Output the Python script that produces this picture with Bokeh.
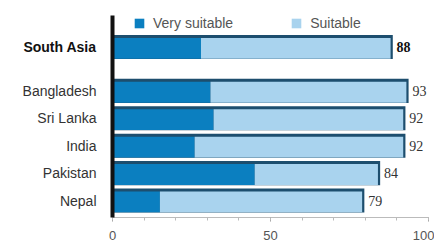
from bokeh.plotting import figure
from bokeh.layouts import row
from bokeh.models import (ColumnDataSource, LabelSet, Legend, LegendItem,
                          FixedTicker, Range1d)
from bokeh.core.properties import value
from bokeh.embed import file_html
from bokeh.resources import INLINE

# ---- data ----
categories = ["South Asia", "Bangladesh", "Sri Lanka", "India", "Pakistan", "Nepal"]
very_suitable = [28, 31, 32, 26, 45, 15]
total_suitable = [88, 93, 92, 92, 84, 79]
x_ticks = [0, 50, 100]
x_minor_ticks = [0, 10, 20, 30, 40, 50, 60, 70, 80, 90, 100]
series_names = ["Very suitable", "Suitable"]

DARK = "#0b7fc0"
LIGHT = "#a9d3ee"
EDGE = "#1d4e6e"
FONT = "Liberation Sans"

n = len(categories)
pos = [(n - 1 + 0.6) if i == 0 else (n - 1 - i) for i in range(n)]

src = ColumnDataSource(dict(
    cat=categories,
    y=pos,
    y_in=[p_ - 0.05 for p_ in pos],
    very=very_suitable,
    total=total_suitable,
    total_edge=[t + 0.7 for t in total_suitable],
    zero=[0] * n,
    one=[1] * n,
    val=[str(t) for t in total_suitable],
    style=["bold" if i == 0 else "normal" for i in range(n)],
    tcolor=["#111111" if i == 0 else "#333333" for i in range(n)],
))

H = 244
TOP = 15
BOTTOM = 27
yr = Range1d(-0.62, 6.75)

# ---- left label panel ----
lab = figure(width=108, height=H, output_backend="svg", toolbar_location=None,
             x_range=Range1d(0, 1), y_range=yr, x_axis_type=None, y_axis_type=None,
             min_border_left=0, min_border_right=0, min_border_top=TOP,
             min_border_bottom=BOTTOM)
lab.outline_line_color = None
lab.xgrid.visible = False
lab.ygrid.visible = False
lab.text(x="one", y="y", text="cat", source=src, x_offset=-12,
         text_align="right", text_baseline="middle",
         text_font=value(FONT),
         text_font_size="14px", text_font_style="style", text_color="tcolor")

# ---- main chart ----
p = figure(width=434 - 108, height=H, output_backend="svg", toolbar_location=None,
           x_range=Range1d(0, 100), y_range=yr,
           min_border_left=4, min_border_right=6, min_border_top=TOP,
           min_border_bottom=BOTTOM)
p.outline_line_color = None
p.xgrid.visible = False
p.ygrid.visible = False

# dark edge (top and right end)
p.hbar(y="y", left="zero", right="total_edge", height=0.88, source=src,
       fill_color=EDGE, line_color=None)
r_very = p.hbar(y="y_in", left="zero", right="very", height=0.76, source=src,
                fill_color=DARK, line_color=None)
r_suit = p.hbar(y="y_in", left="very", right="total", height=0.76, source=src,
                fill_color=LIGHT, line_color=None)

# value labels
val_labels = LabelSet(x="total", y="y", text="val", source=src, x_offset=6,
                      text_align="left", text_baseline="middle",
                      text_font=FONT, text_font_size="14px",
                      text_font_style="style", text_color="tcolor")
p.add_layout(val_labels)

# axes
p.yaxis.ticker = FixedTicker(ticks=[])
p.yaxis.axis_line_color = "#111111"
p.yaxis.axis_line_width = 4
p.yaxis.major_tick_line_color = None
p.yaxis.minor_tick_line_color = None

p.xaxis.ticker = FixedTicker(ticks=x_ticks, minor_ticks=x_minor_ticks)
p.xaxis.axis_line_color = "#bbbbbb"
p.xaxis.major_tick_line_color = "#999999"
p.xaxis.minor_tick_line_color = "#bbbbbb"
p.xaxis.major_tick_in = 0
p.xaxis.major_tick_out = 4
p.xaxis.minor_tick_in = 0
p.xaxis.minor_tick_out = 3
p.xaxis.major_label_text_font = FONT
p.xaxis.major_label_text_font_size = "13px"
p.xaxis.major_label_text_color = "#555555"
p.xaxis.major_label_standoff = 9

legend = Legend(items=[LegendItem(label=series_names[0], renderers=[r_very]),
                       LegendItem(label=series_names[1], renderers=[r_suit])],
                orientation="horizontal", location=(21, 186),
                glyph_width=12, glyph_height=12, label_standoff=8, spacing=57,
                padding=0, margin=0, border_line_color=None,
                background_fill_alpha=0, label_height=16,
                label_text_font=FONT, label_text_font_size="14px",
                label_text_color="#555555")
p.add_layout(legend)

layout = row(lab, p, spacing=0)
open("out.html", "w").write(file_html(layout, INLINE))
